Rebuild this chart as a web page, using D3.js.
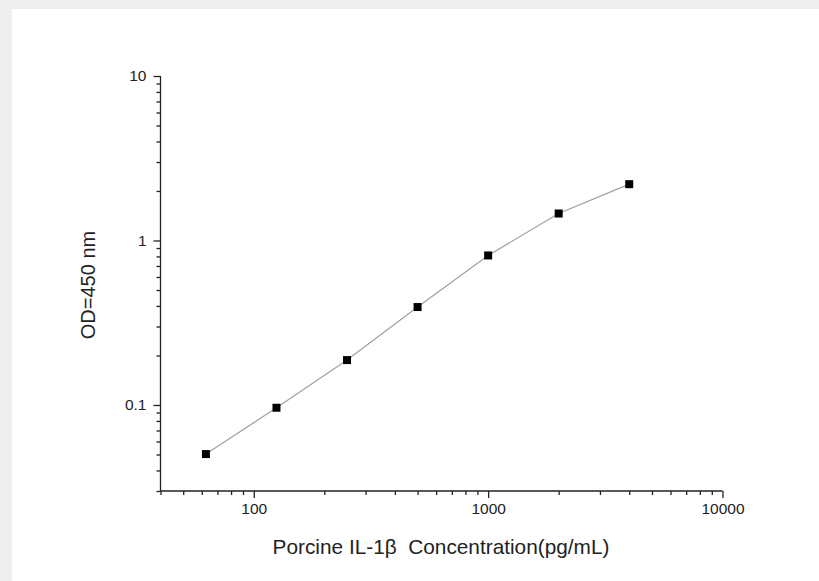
<!DOCTYPE html>
<html>
<head>
<meta charset="utf-8">
<script src="https://cdn.jsdelivr.net/npm/d3@7"></script>
<style>
html,body{margin:0;padding:0;background:#eeeeee;}
svg{display:block;}
</style>
</head>
<body>
<svg id="chart" width="819" height="581"></svg>
<script>
const concentrations = [62.5, 125, 250, 500, 1000, 2000, 4000];
const odValues = [0.0503, 0.0962, 0.1875, 0.394, 0.811, 1.459, 2.20];
const xTickLabels = [100, 1000, 10000];
const yTickLabels = [0.1, 1, 10];
const xTitle = "Porcine IL-1\u03B2  Concentration(pg/mL)";
const yTitle = "OD=450 nm";

const svg = d3.select("#chart");
svg.append("rect").attr("x", 12).attr("y", 9).attr("width", 819 - 12).attr("height", 581 - 9).attr("fill", "#ffffff");

const x = d3.scaleLog().domain([40, 10000]).range([160.5, 722.5]);
const y = d3.scaleLog().domain([0.03, 10]).range([491, 76]);

const font = "'Liberation Sans', Arial, sans-serif";

function minorTicks(scale) {
  const [a, b] = scale.domain();
  const out = [];
  for (let e = Math.floor(Math.log10(a)); e <= Math.ceil(Math.log10(b)); e++) {
    for (let m = 2; m < 10; m++) {
      const v = m * Math.pow(10, e);
      if (v >= a * 0.999 && v <= b * 1.001) out.push(v);
    }
  }
  return out;
}

const gx = svg.append("g").attr("transform", "translate(0,491)");
gx.call(d3.axisBottom(x).tickValues(minorTicks(x)).tickSize(4).tickFormat(""));
gx.call(g => g.select(".domain").remove());
const gxMajor = svg.append("g").attr("transform", "translate(0,491)")
  .call(d3.axisBottom(x).tickValues(xTickLabels).tickSize(7).tickSizeOuter(0).tickPadding(5).tickFormat(d3.format("d")));
gxMajor.select(".domain").attr("d", `M${x.range()[0]},0H${x.range()[1]}`);
gxMajor.selectAll("text").style("font-family", font).style("font-size", "15.5px").attr("fill", "#222");

const gy = svg.append("g").attr("transform", "translate(160.5,0)");
gy.call(d3.axisLeft(y).tickValues(minorTicks(y)).tickSize(4).tickFormat(""));
gy.call(g => g.select(".domain").remove());
const gyMajor = svg.append("g").attr("transform", "translate(160.5,0)")
  .call(d3.axisLeft(y).tickValues(yTickLabels).tickSize(7).tickSizeOuter(0).tickPadding(7).tickFormat(d => String(d)));
gyMajor.select(".domain").attr("d", `M0,${y.range()[1]}V${y.range()[0]}`);
gyMajor.selectAll("text").style("font-family", font).style("font-size", "15.5px").attr("fill", "#222");

svg.selectAll(".tick line, .domain").attr("stroke", "#222").attr("stroke-width", 1.3);

const pts = concentrations.map((c, i) => [c, odValues[i]]);
svg.append("path")
  .datum(pts)
  .attr("fill", "none")
  .attr("stroke", "#a0a0a0")
  .attr("stroke-width", 1.2)
  .attr("d", d3.line().x(d => x(d[0])).y(d => y(d[1])));

svg.selectAll("rect.pt").data(pts).enter().append("rect")
  .attr("class", "pt")
  .attr("x", d => x(d[0]) - 4)
  .attr("y", d => y(d[1]) - 4)
  .attr("width", 8).attr("height", 8)
  .attr("fill", "#000");

svg.append("text")
  .attr("x", 441).attr("y", 554)
  .attr("text-anchor", "middle")
  .style("white-space", "pre")
  .style("font-family", font).style("font-size", "20.8px").attr("fill", "#222")
  .text(xTitle);

svg.append("text")
  .attr("transform", "translate(95,285) rotate(-90)")
  .attr("text-anchor", "middle")
  .style("font-family", font).style("font-size", "20px").attr("fill", "#222")
  .text(yTitle);
</script>
</body>
</html>
